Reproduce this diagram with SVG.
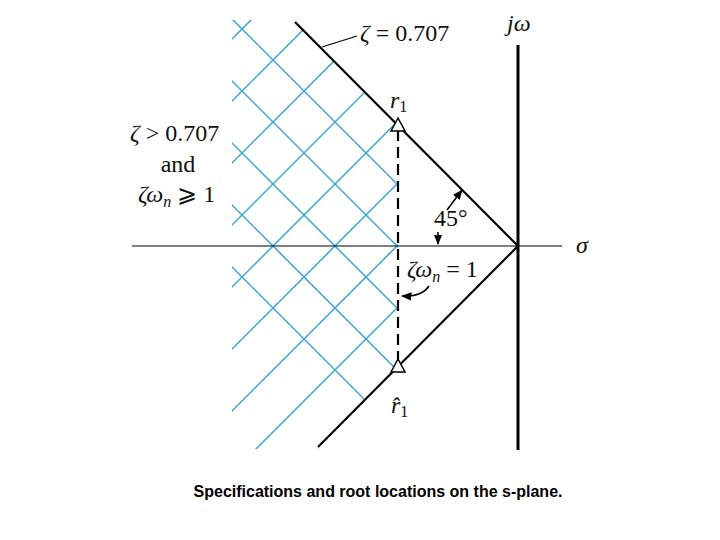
<svg xmlns="http://www.w3.org/2000/svg" width="720" height="540" viewBox="0 0 720 540">
<style>
.t{font-family:"Liberation Serif",serif;font-size:24px;fill:#111}
.i{font-style:italic}
.h{stroke:#3aa6d6;stroke-width:1.5;fill:none}
.k{stroke:#000;fill:none}
</style>
<defs>
<clipPath id="c"><polygon points="232,20 293,20 398,125 398,366 317,449 232,449"/></clipPath>
<marker id="a" viewBox="0 0 10 10" refX="9" refY="5" markerWidth="7" markerHeight="7" orient="auto-start-reverse"><path d="M0,1 L10,5 L0,9 Z" fill="#000"/></marker>
</defs>
<rect width="720" height="540" fill="#fff"/>
<g id="hatch" clip-path="url(#c)">
<path class="h" d="M209,0 L-291,500 M271,0 L-229,500 M333,0 L-167,500 M395,0 L-105,500 M457,0 L-43,500 M519,0 L19,500 M581,0 L81,500 M643,0 L143,500 M705,0 L205,500 M767,0 L267,500 M829,0 L329,500 M891,0 L391,500"/>
<path class="h" d="M-35,0 L465,500 M27,0 L527,500 M89,0 L589,500 M151,0 L651,500 M213,0 L713,500 M275,0 L775,500 M337,0 L837,500"/>
</g>
<g id="connectors">
<line class="k" x1="132" y1="246" x2="562" y2="246" stroke-width="1.2"/>
<line class="k" x1="518" y1="45" x2="518" y2="450" stroke-width="3"/>
<line class="k" x1="295" y1="22" x2="518" y2="246" stroke-width="2.2"/>
<line class="k" x1="518" y1="246" x2="318" y2="447" stroke-width="2.2"/>
<line class="k" x1="398" y1="130" x2="398" y2="362" stroke-width="2.2" stroke-dasharray="11,6"/>
<line class="k" x1="322" y1="47" x2="357" y2="36" stroke-width="1.2"/>
<line class="k" x1="447" y1="210" x2="462" y2="190" stroke-width="1.5" marker-end="url(#a)"/>
<line class="k" x1="438" y1="232" x2="438" y2="244" stroke-width="1.5" marker-end="url(#a)"/>
<path class="k" d="M429,286 Q422,297 402,296" stroke-width="1.5" marker-end="url(#a)"/>
</g>
<g id="r1"><polygon points="398,118 391,131 405,131" fill="#fff" stroke="#000" stroke-width="1.5"/><text class="t i" x="390" y="108">r<tspan font-size="16" dy="4" font-style="normal">1</tspan></text></g>
<g id="r1hat"><polygon points="398,359 391,372 405,372" fill="#fff" stroke="#000" stroke-width="1.5"/><text class="t i" x="391" y="413">r̂<tspan font-size="16" dy="4" font-style="normal">1</tspan></text></g>
<g id="labels">
<text class="t" x="360" y="41"><tspan class="i">ζ</tspan> = 0.707</text>
<text class="t i" x="507" y="31">jω</text>
<text class="t" x="130" y="141"><tspan class="i">ζ</tspan> &gt; 0.707</text>
<text class="t" x="178" y="172" text-anchor="middle">and</text>
<text class="t" x="138" y="202"><tspan class="i">ζω<tspan font-size="16" dy="5">n</tspan></tspan><tspan dy="-5"> ⩾ 1</tspan></text>
<text class="t" x="434" y="226">45°</text>
<text class="t i" x="576" y="253">σ</text>
<text class="t" x="407" y="277"><tspan class="i">ζω<tspan font-size="16" dy="5">n</tspan></tspan><tspan dy="-5"> = 1</tspan></text>
<text x="378" y="497" text-anchor="middle" font-family="Liberation Sans,Arial,sans-serif" font-weight="bold" font-size="16">Specifications and root locations on the s-plane.</text>
</g>
</svg>
